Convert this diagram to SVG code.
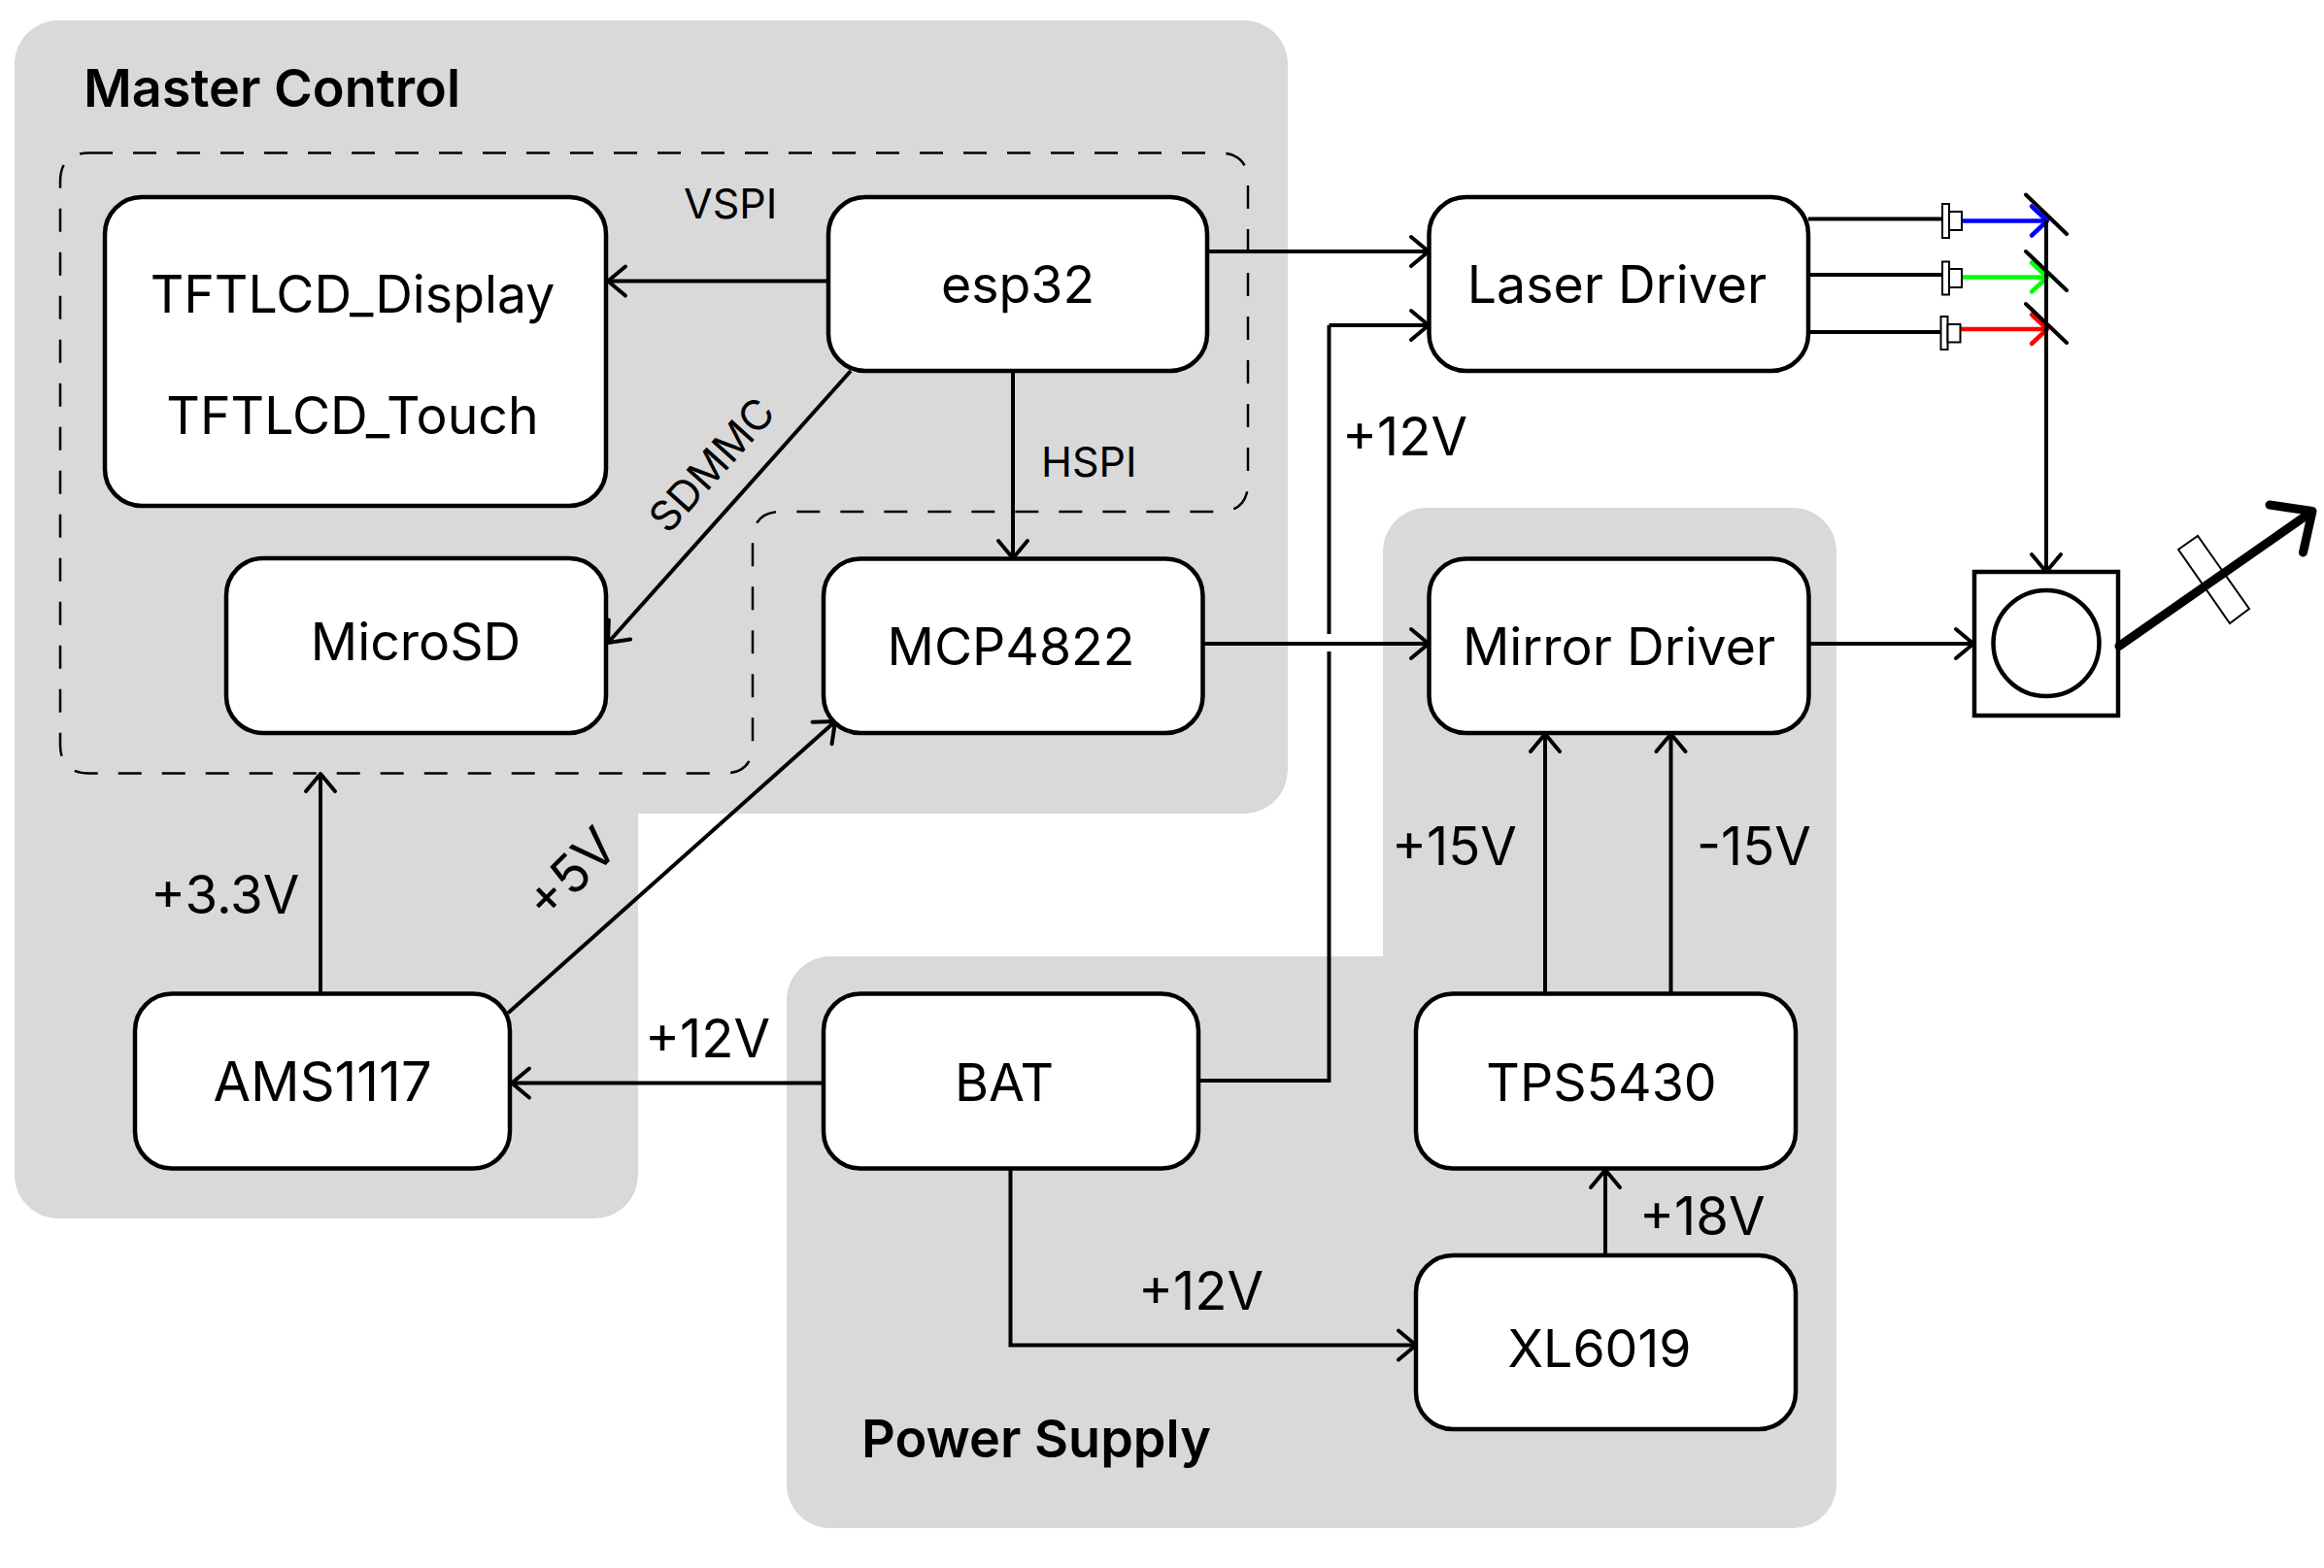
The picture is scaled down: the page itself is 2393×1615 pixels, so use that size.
<svg xmlns="http://www.w3.org/2000/svg" width="2393" height="1615" viewBox="0 0 2393 1615">
<style>
text{font-family:Inter,"Liberation Sans",sans-serif;fill:#000}
.t{font-size:53.6px;text-anchor:middle}
.l{font-size:54.5px}
.s{font-size:43px}
.h{font-size:54px;font-weight:600}
.n{fill:#fff;stroke:#000;stroke-width:4.5}
.g{fill:#d9d9d9}
.c{fill:none;stroke:#000;stroke-width:4;marker-end:url(#a)}
.p{fill:none;stroke:#000;stroke-width:4}
.d{fill:#fff;stroke:#000;stroke-width:2}
</style>
<defs>
<marker id="a" markerUnits="userSpaceOnUse" markerWidth="44" markerHeight="44" refX="22" refY="22" orient="auto" overflow="visible"><path d="M4,7L22,22L4,37" fill="none" stroke="#000" stroke-width="4" stroke-linecap="round" stroke-linejoin="round"/></marker>
<marker id="ab" markerUnits="userSpaceOnUse" markerWidth="44" markerHeight="44" refX="22" refY="22" orient="auto" overflow="visible"><path d="M6,7L22,22L6,37" fill="none" stroke="#00f" stroke-width="4.5" stroke-linecap="round" stroke-linejoin="round"/></marker>
<marker id="ag" markerUnits="userSpaceOnUse" markerWidth="44" markerHeight="44" refX="22" refY="22" orient="auto" overflow="visible"><path d="M6,7L22,22L6,37" fill="none" stroke="#0f0" stroke-width="4.5" stroke-linecap="round" stroke-linejoin="round"/></marker>
<marker id="ar" markerUnits="userSpaceOnUse" markerWidth="44" markerHeight="44" refX="22" refY="22" orient="auto" overflow="visible"><path d="M6,7L22,22L6,37" fill="none" stroke="#f00" stroke-width="4.5" stroke-linecap="round" stroke-linejoin="round"/></marker>
</defs>
<rect width="2393" height="1615" fill="#fff"/>
<g id="master-control">
<path class="g" d="M60,21H1281a45,45 0 0 1 45,45V793a45,45 0 0 1 -45,45H657V1210a45,45 0 0 1 -45,45H60a45,45 0 0 1 -45,-45V66a45,45 0 0 1 45,-45Z"/>
<text class="h" x="86" y="110">Master Control</text>
</g>
<g id="power-supply">
<path class="g" d="M1424,985V568a45,45 0 0 1 45,-45H1846a45,45 0 0 1 45,45V1529a45,45 0 0 1 -45,45H855a45,45 0 0 1 -45,-45V1030a45,45 0 0 1 45,-45Z"/>
<text class="h" x="887" y="1501">Power Supply</text>
</g>
<g id="esp32-domain"><path d="M92,157.5H1255Q1285,157.5 1285,187V497Q1285,527 1255,527H805Q775,527 775,557V767Q775,796.5 745,796.5H92Q62,796.5 62,767V187Q62,157.5 92,157.5Z" fill="none" stroke="#000" stroke-width="2.5" stroke-dasharray="24 21"/></g>
<g id="connectors">
<path class="c" d="M853,289.5H626"/>
<path class="c" d="M876,382L626,662"/>
<path class="c" d="M1043,382V575"/>
<path class="c" d="M1243,259H1471"/>
<path class="c" d="M1239,663H1471"/>
<path class="p" d="M1235,1113H1368.5V671M1368.5,653V335"/>
<path class="c" d="M1368.5,335H1471"/>
<path class="c" d="M330,1023V797"/>
<path class="c" d="M523,1043.5L860,743"/>
<path class="c" d="M848,1115.5H527"/>
<path class="c" d="M1591,1024V756"/>
<path class="c" d="M1720.5,1024V756"/>
<path class="c" d="M1653,1293V1205"/>
<path class="c" d="M1040.5,1203V1385.5H1458"/>
<path class="c" d="M1863,663H2032"/>
<path class="p" d="M1862,225.5H2000M1862,283H2000M1862,342H1998"/>
<path d="M2020,227.5H2108" fill="none" stroke="#00f" stroke-width="4.5" marker-end="url(#ab)"/>
<path d="M2020,285.5H2108" fill="none" stroke="#0f0" stroke-width="4.5" marker-end="url(#ag)"/>
<path d="M2019,339H2108" fill="none" stroke="#f00" stroke-width="4.5" marker-end="url(#ar)"/>
<path class="c" d="M2107,227V589"/>
<path d="M2086,200.5L2128,241M2086,259L2128,299M2086,313L2128,353" fill="none" stroke="#000" stroke-width="4" stroke-linecap="round"/>
</g>
<g id="labels">
<text class="s" x="704" y="225">VSPI</text>
<text class="s" x="1072" y="491">HSPI</text>
<text class="s" text-anchor="middle" transform="translate(733,479) rotate(-48) translate(0,15)">SDMMC</text>
<text class="l" x="155" y="941">+3.3V</text>
<text class="l" text-anchor="middle" transform="translate(588,900) rotate(-45) translate(0,19)">+5V</text>
<text class="l" x="664" y="1089">+12V</text>
<text class="l" x="1382" y="469">+12V</text>
<text class="l" x="1433" y="891">+15V</text>
<text class="l" x="1747" y="891">-15V</text>
<text class="l" x="1688" y="1272">+18V</text>
<text class="l" x="1172" y="1349">+12V</text>
</g>
<g id="tftlcd"><rect class="n" x="108" y="203" width="516" height="318" rx="38"/><text class="t" x="363" y="322">TFTLCD_Display</text><text class="t" x="363" y="447">TFTLCD_Touch</text></g>
<g id="esp32"><rect class="n" x="853" y="203" width="390" height="179" rx="38"/><text class="t" x="1048" y="312">esp32</text></g>
<g id="microsd"><rect class="n" x="233" y="575" width="391" height="180" rx="38"/><text class="t" x="428" y="680">MicroSD</text></g>
<g id="mcp4822"><rect class="n" x="848" y="575.5" width="390.5" height="179.5" rx="38"/><text class="t" x="1041" y="685">MCP4822</text></g>
<g id="ams1117"><rect class="n" x="139" y="1023.5" width="386" height="180" rx="38"/><text class="t" x="332" y="1134" style="font-size:56px">AMS1117</text></g>
<g id="bat"><rect class="n" x="848" y="1023.5" width="386" height="180" rx="38"/><text class="t" x="1034" y="1134">BAT</text></g>
<g id="laser-driver"><rect class="n" x="1471.5" y="203" width="390.5" height="179" rx="38"/><text class="t" x="1665" y="312">Laser Driver</text></g>
<g id="mirror-driver"><rect class="n" x="1471.5" y="575.5" width="391" height="179.5" rx="38"/><text class="t" x="1667" y="685">Mirror Driver</text></g>
<g id="tps5430"><rect class="n" x="1458" y="1023.5" width="391" height="180" rx="38"/><text class="t" x="1649" y="1134">TPS5430</text></g>
<g id="xl6019"><rect class="n" x="1458" y="1293" width="391" height="179" rx="38"/><text class="t" x="1647" y="1408">XL6019</text></g>
<g id="laser-diodes">
<rect class="d" x="2000" y="210" width="7" height="35"/><rect class="d" x="2007" y="218" width="13" height="19"/>
<rect class="d" x="2000" y="269.5" width="7" height="34"/><rect class="d" x="2007" y="277" width="13" height="19"/>
<rect class="d" x="1998.5" y="326" width="7" height="34"/><rect class="d" x="2005.5" y="334" width="13" height="18.5"/>
</g>
<g id="scanner">
<rect x="2033" y="589" width="148" height="148" fill="#fff" stroke="#000" stroke-width="4.5"/>
<circle cx="2107" cy="662.5" r="54.5" fill="none" stroke="#000" stroke-width="4.5"/>
</g>
<g id="output-beam">
<polygon points="2243,566 2263,552 2316,627 2296,642" fill="#fff" stroke="#000" stroke-width="2"/>
<path d="M2182,665.5L2379,528M2337,520L2381,526.5L2371.5,569" fill="none" stroke="#000" stroke-width="9" stroke-linecap="round" stroke-linejoin="round"/>
</g>
</svg>
